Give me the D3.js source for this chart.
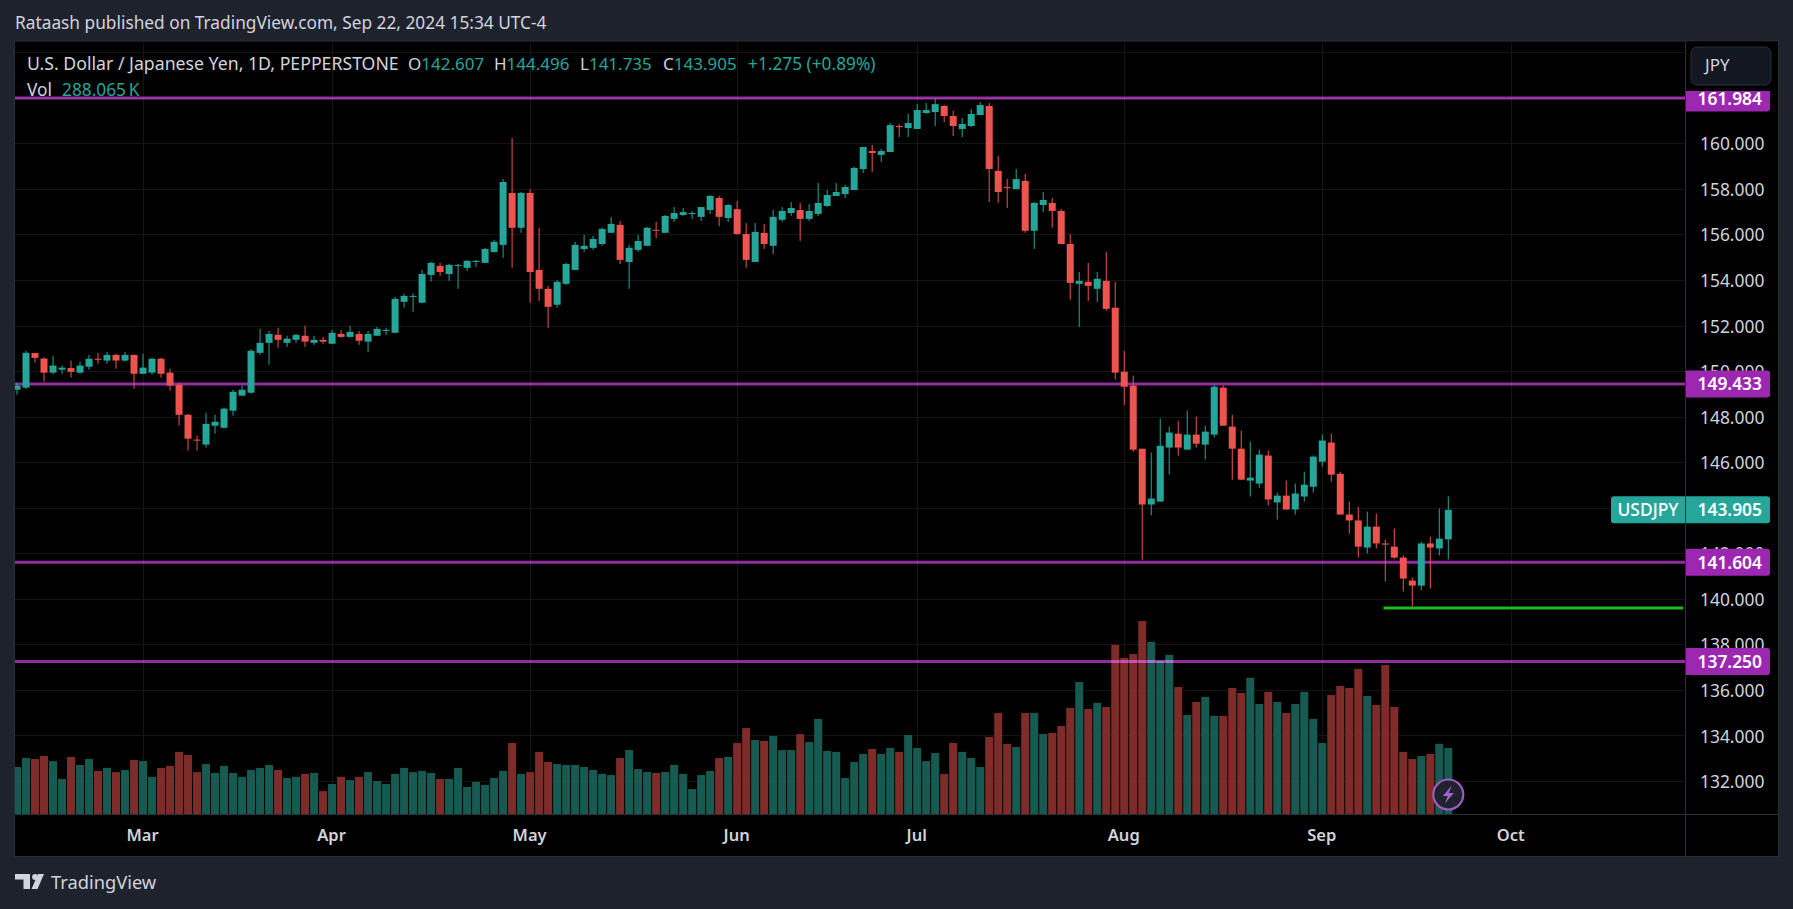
<!DOCTYPE html>
<html>
<head>
<meta charset="utf-8">
<script src="https://cdn.jsdelivr.net/npm/d3@7"></script>
<style>
html, body { margin: 0; padding: 0; background: #1e222d; }
svg { display: block; }
text { font-family: "Noto Sans", sans-serif; fill: #d1d4dc; }
</style>
</head>
<body>
<div id="chart"></div>
<script>
// daily USDJPY bars, index 0 = Feb 12 2024, index 159 = Sep 20 2024
var open = [
	149.18,149.27,150.79,150.55,149.93,150.06,150.13,149.93,150.19,150.54,
	150.46,150.71,150.46,150.71,149.88,149.93,150.54,149.93,149.40,148.08,
	146.99,146.77,147.60,147.51,148.26,148.92,149.05,150.80,151.24,151.59,
	151.24,151.37,151.55,151.24,151.37,151.20,151.63,151.50,151.63,151.29,
	151.55,151.76,151.68,153.04,153.26,153.00,154.22,154.62,154.26,154.62,
	154.53,154.79,154.75,155.23,155.54,157.82,156.29,157.82,154.44,153.61,
	152.91,153.83,154.44,155.36,155.41,155.58,156.07,156.42,154.79,155.32,
	155.50,156.20,156.07,156.68,156.85,156.90,156.77,157.07,157.60,156.72,
	157.11,156.02,154.79,156.07,155.50,156.64,156.94,157.07,156.68,156.90,
	157.25,157.69,157.77,157.95,158.87,159.66,159.49,159.62,160.76,160.67,
	160.63,161.33,161.37,161.64,161.20,160.63,160.76,161.24,161.64,158.79,
	158.08,157.99,158.35,156.16,157.29,157.38,157.03,155.58,153.83,153.92,
	153.61,153.96,152.78,149.97,149.36,146.59,144.14,144.27,146.64,147.25,
	146.55,147.21,146.77,147.21,149.27,147.56,146.59,145.19,145.06,146.29,
	144.23,144.53,143.92,144.49,144.92,146.02,146.86,145.49,143.70,143.44,
	142.25,143.17,142.43,142.29,141.81,140.80,140.58,142.43,142.21,142.607];
var close = [
	149.36,150.80,150.58,149.93,150.24,150.15,149.97,150.24,150.54,150.51,
	150.71,150.46,150.71,149.88,150.15,150.54,149.88,149.36,148.08,147.03,
	146.95,147.68,147.77,148.35,149.09,149.18,150.89,151.24,151.63,151.37,
	151.42,151.59,151.29,151.37,151.29,151.68,151.50,151.72,151.33,151.63,
	151.85,151.81,153.17,153.30,153.30,154.26,154.75,154.35,154.66,154.66,
	154.84,154.84,155.36,155.67,158.30,156.29,157.82,154.35,153.61,152.82,
	153.92,154.70,155.54,155.50,155.80,156.24,156.46,154.88,155.41,155.71,
	156.29,156.16,156.81,156.94,156.98,156.94,157.20,157.69,156.77,157.29,
	156.02,154.88,156.11,155.58,156.77,157.03,157.16,156.68,157.03,157.38,
	157.73,157.86,158.08,158.92,159.84,159.57,159.66,160.80,160.71,160.89,
	161.46,161.46,161.72,161.20,160.76,160.85,161.29,161.68,158.87,157.86,
	158.04,158.43,156.16,157.38,157.51,157.03,155.58,153.87,153.96,153.74,
	154.05,152.73,149.93,149.31,146.55,144.14,144.40,146.72,147.30,146.64,
	147.21,146.81,147.34,149.31,147.60,146.59,145.23,145.32,146.33,144.36,
	144.53,143.92,144.62,145.01,146.24,146.95,145.45,143.70,143.44,142.29,
	143.17,142.43,142.38,141.81,140.89,140.58,142.43,142.25,142.64,143.905];
var high = [
	149.49,150.89,150.80,150.60,150.67,150.24,150.46,150.41,150.71,150.80,
	150.84,150.76,150.84,150.71,150.76,150.58,150.58,150.10,149.49,148.12,
	147.17,148.17,148.08,148.39,149.18,149.36,150.97,151.85,151.76,151.90,
	151.55,151.63,151.99,151.55,151.50,151.81,151.81,151.99,151.76,151.76,
	151.94,151.90,153.26,153.39,153.42,154.44,154.79,154.75,154.70,154.70,
	154.88,154.88,155.41,155.76,158.43,160.23,157.86,157.99,156.29,153.74,
	154.00,154.75,155.67,155.98,155.93,156.29,156.77,156.59,155.54,155.98,
	156.33,156.55,156.85,157.20,157.16,157.03,157.20,157.73,157.69,157.34,
	157.47,156.50,156.50,156.46,157.07,157.20,157.42,157.38,157.34,158.26,
	157.95,158.26,158.17,158.96,159.84,159.93,159.75,160.89,160.85,161.29,
	161.72,161.77,161.94,161.68,161.42,161.11,161.50,161.81,161.77,159.45,
	158.43,158.87,158.66,157.42,157.86,157.60,157.11,156.02,154.35,154.75,
	154.35,155.23,153.92,150.89,149.80,146.59,146.42,147.91,147.56,147.82,
	148.26,148.00,147.60,149.40,149.36,148.08,147.38,146.90,146.55,146.51,
	144.66,145.19,145.06,145.58,146.29,147.21,147.25,145.58,144.27,144.05,
	143.83,143.74,142.60,143.08,141.90,140.93,142.51,142.73,143.96,144.496];
var low = [
	148.96,149.22,150.37,149.53,149.85,149.88,149.71,149.88,150.06,150.32,
	150.32,150.10,150.41,149.22,149.88,149.84,149.71,149.14,147.60,146.51,
	146.51,146.64,147.25,147.47,148.04,148.92,149.00,150.71,150.28,151.02,
	151.06,151.24,151.06,151.15,151.20,151.20,151.46,151.46,151.15,150.84,
	151.55,151.59,151.68,152.78,152.60,153.00,153.92,154.18,153.96,153.61,
	154.40,154.57,154.75,155.19,154.97,154.53,156.07,153.00,153.08,151.90,
	152.78,153.78,154.44,155.23,155.32,155.50,156.07,154.70,153.61,155.23,
	155.50,155.84,156.07,156.55,156.81,156.68,156.59,156.90,156.37,156.55,
	155.98,154.53,154.79,155.36,155.14,156.55,156.81,155.71,156.59,156.81,
	157.20,157.69,157.60,157.95,158.70,158.74,159.18,159.62,160.27,160.27,
	160.63,161.29,160.76,160.93,160.32,160.27,160.71,161.24,157.42,157.38,
	157.16,157.99,156.07,155.36,156.98,156.29,155.58,153.13,151.94,153.08,
	153.04,152.64,149.62,148.52,146.46,141.72,143.66,144.27,145.45,146.29,
	146.55,146.64,146.11,147.08,147.60,145.23,145.23,144.49,144.88,144.10,
	143.48,143.92,143.70,144.27,144.66,145.80,145.14,143.70,142.86,141.81,
	141.99,142.21,140.76,141.76,140.32,139.66,140.37,140.45,141.90,141.735];
// volume in thousands
var volume = [
	205,244,240,253,231,153,249,214,240,188,
	201,183,192,236,231,162,201,210,271,258,
	183,218,179,210,179,162,192,201,214,192,
	157,162,175,179,100,131,162,148,162,183,
	144,131,175,201,183,188,179,153,153,201,
	118,140,127,157,188,310,175,183,271,227,
	218,214,214,205,192,175,170,244,279,196,
	183,179,183,214,175,109,170,188,244,249,
	310,375,323,319,340,279,279,349,314,415,
	275,271,157,227,262,284,262,288,271,345,
	288,231,266,175,310,271,244,205,336,441,
	306,292,441,441,349,354,384,463,576,458,
	485,467,738,681,698,842,751,668,694,554,
	432,489,511,428,428,550,528,594,480,533,
	489,441,480,533,415,310,519,559,550,633,
	515,476,650,467,271,240,253,262,306,288.065];

var priceLabels = [132,134,136,138,140,142,144,146,148,150,152,154,156,158,160];
var priceGrid = [132,134,136,138,140,142,144,146,148,150,152,154,156,158,160,162,164];
var monthNames = ["Mar","Apr","May","Jun","Jul","Aug","Sep","Oct"];
var monthBars = [14,35,57,80,100,123,145,166];
var levels = [161.984,149.433,141.604,137.25];
var lastPrice = 143.905;
var lowLine = 139.6;
var lowLineBars = [151.8,185.1];

var legendName = "U.S. Dollar / Japanese Yen, 1D, PEPPERSTONE";
var legendOhlc = [["O","142.607"],["H","144.496"],["L","141.735"],["C","143.905"]];
var legendChange = "+1.275 (+0.89%)";

var teal = "#26a69a", red = "#ef5350", purple = "#9c27b0";
var W = 1793, H = 909;
var left = 15, top_ = 41.5, plotR = 1685, plotB = 814, right = 1778, bottom = 856;

var x = d3.scaleLinear().domain([0,159]).range([17,1448.3]);
var y = d3.scaleLinear().domain([132,160]).range([781,143.3]);
var v = d3.scaleLinear().domain([0,842]).range([plotB,plotB-193]);
var fmt = d3.format(".3f");

var svg = d3.select("#chart").append("svg").attr("width", W).attr("height", H);

svg.append("clipPath").attr("id","plotClip").append("rect")
	.attr("x",left).attr("y",top_).attr("width",plotR-left).attr("height",plotB-top_);

svg.append("text").attr("x",15).attr("y",29).style("font-size","17.3px")
	.text("Rataash published on TradingView.com, Sep 22, 2024 15:34 UTC-4");

// panel
svg.append("rect").attr("x",left-0.5).attr("y",top_-0.5).attr("width",right-left+1).attr("height",bottom-top_+1)
	.attr("fill","#000").attr("stroke","#2a2e39");

var plot = svg.append("g").attr("clip-path","url(#plotClip)");

plot.selectAll(".hgrid").data(priceGrid).enter().append("line")
	.attr("x1",left).attr("x2",plotR)
	.attr("y1",function(d){return Math.round(y(d))+0.5;})
	.attr("y2",function(d){return Math.round(y(d))+0.5;})
	.attr("stroke","#151517");
plot.selectAll(".vgrid").data(monthBars).enter().append("line")
	.attr("x1",function(d){return Math.round(x(d))+0.5;})
	.attr("x2",function(d){return Math.round(x(d))+0.5;})
	.attr("y1",top_).attr("y2",plotB)
	.attr("stroke","#151517");

// volume
plot.selectAll(".vol").data(volume).enter().append("rect")
	.attr("x",function(d,i){return x(i)-4;})
	.attr("width",8)
	.attr("y",function(d){return v(d);})
	.attr("height",function(d){return plotB-v(d);})
	.attr("fill",function(d,i){return close[i]>=open[i] ? "#175a52" : "#7d2c2a";});

// level lines, they brighten what they cross
plot.selectAll(".level").data(levels).enter().append("line")
	.attr("x1",left).attr("x2",plotR)
	.attr("y1",function(d){return y(d);}).attr("y2",function(d){return y(d);})
	.attr("stroke","#922c9f").attr("stroke-width",3)
	.style("mix-blend-mode","screen");

plot.append("line")
	.attr("x1",x(lowLineBars[0])).attr("x2",x(lowLineBars[1]))
	.attr("y1",y(lowLine)).attr("y2",y(lowLine))
	.attr("stroke","#1fb81f").attr("stroke-width",3);

// candles
plot.selectAll(".wick").data(open).enter().append("line")
	.attr("x1",function(d,i){return x(i);}).attr("x2",function(d,i){return x(i);})
	.attr("y1",function(d,i){return y(high[i]);})
	.attr("y2",function(d,i){return y(low[i]);})
	.attr("stroke",function(d,i){return close[i]>=open[i] ? teal : red;})
	.attr("stroke-width",1);
plot.selectAll(".body").data(open).enter().append("rect")
	.attr("x",function(d,i){return x(i)-3.5;})
	.attr("width",7)
	.attr("y",function(d,i){return y(Math.max(d,close[i]));})
	.attr("height",function(d,i){return Math.max(1,Math.abs(y(d)-y(close[i])));})
	.attr("fill",function(d,i){return close[i]>=open[i] ? teal : red;});

// lightning mark on the last bar
var bolt = svg.append("g").attr("transform","translate("+x(159)+",794.5)");
bolt.append("circle").attr("r",15).attr("fill","#1e222d").attr("stroke","#9b5cc0").attr("stroke-width",2.2);
bolt.append("path").attr("d","M3.5,-9 L-5.5,1.5 L-0.5,1.5 L-3.5,9 L5.5,-1.5 L0.5,-1.5 Z").attr("fill","#a65fd0");

// axis rules
svg.append("line").attr("x1",plotR+0.5).attr("x2",plotR+0.5).attr("y1",top_).attr("y2",bottom).attr("stroke","#2a2e39");
svg.append("line").attr("x1",left).attr("x2",right).attr("y1",plotB+0.5).attr("y2",plotB+0.5).attr("stroke","#2a2e39");

// price axis
var yAxis = svg.append("g").attr("transform","translate("+plotR+",1)")
	.call(d3.axisRight(y).tickValues(priceLabels).tickFormat(fmt).tickSize(0).tickPadding(15));
yAxis.select(".domain").remove();
yAxis.selectAll("text").style("font-family",'"Noto Sans", sans-serif').style("font-size","17.4px").attr("fill","#d1d4dc");

// time axis
var xAxis = svg.append("g").attr("transform","translate(-1,"+plotB+")")
	.call(d3.axisBottom(x).tickValues(monthBars).tickFormat(function(d,i){return monthNames[i];}).tickSize(0).tickPadding(14));
xAxis.select(".domain").remove();
xAxis.selectAll("text").attr("dy","0.8em").style("font-family",'"Noto Sans", sans-serif').style("font-size","16.5px").style("font-weight",600).attr("fill","#d1d4dc");

// price labels
function priceTag(value, color){
	var g = svg.append("g");
	g.append("path")
		.attr("d","M"+(plotR+1)+","+(y(value)-13.5)+" H1767 a3,3 0 0 1 3,3 V"+(y(value)+10.5)+" a3,3 0 0 1 -3,3 H"+(plotR+1)+" Z")
		.attr("fill",color);
	g.append("text").attr("x",1762).attr("y",y(value)+6.5).attr("text-anchor","end")
		.style("font-size","17.4px").style("font-weight",600).style("fill","#fff").text(fmt(value));
}
levels.forEach(function(d){priceTag(d,purple);});
priceTag(lastPrice,teal);

svg.append("path")
	.attr("d","M"+(plotR)+","+(y(lastPrice)-13.5)+" H1614 a3,3 0 0 0 -3,3 V"+(y(lastPrice)+10.5)+" a3,3 0 0 0 3,3 H"+plotR+" Z")
	.attr("fill",teal);
svg.append("text").attr("x",1648).attr("y",y(lastPrice)+6.5).attr("text-anchor","middle")
	.style("font-size","17.4px").style("font-weight",500).style("fill","#fff").text("USDJPY");

// currency button sits over the top tag
svg.append("rect").attr("x",plotR+1).attr("y",top_).attr("width",right-plotR-1).attr("height",49.5).attr("fill","#000");
svg.append("rect").attr("x",1691).attr("y",47).attr("width",80).attr("height",38).attr("rx",6)
	.attr("fill","#131722").attr("stroke","#2a2e39");
svg.append("text").attr("x",1705).attr("y",71).style("font-size","17px").text("JPY");

// legend
svg.append("text").attr("x",27).attr("y",70).style("font-size","17.7px").text(legendName);
var legendX = [408,494,580,663];
legendOhlc.forEach(function(d,i){
	var t = svg.append("text").attr("x",legendX[i]).attr("y",70).style("font-size","17px");
	t.append("tspan").text(d[0]);
	t.append("tspan").style("fill",teal).text(d[1]);
});
svg.append("text").attr("x",748).attr("y",70).style("font-size","17.3px").style("fill",teal).text(legendChange);
svg.append("text").attr("x",27).attr("y",96).style("font-size","17.3px").text("Vol");
svg.append("text").attr("x",62).attr("y",96).style("font-size","17.3px").style("fill",teal).text("288.065\u202fK");

// logo
var logo = svg.append("g").attr("transform","translate(15,874)").attr("fill","#d1d4dc");
logo.append("path").attr("d","M0,0 H15 V15 H8.5 V5.5 H0 Z");
logo.append("circle").attr("cx",20).attr("cy",3).attr("r",2.9);
logo.append("path").attr("d","M23,0 H29 L22.5,15 H16.5 Z");
svg.append("text").attr("x",51).attr("y",889).style("font-size","18.3px").text("TradingView");
</script>
</body>
</html>
